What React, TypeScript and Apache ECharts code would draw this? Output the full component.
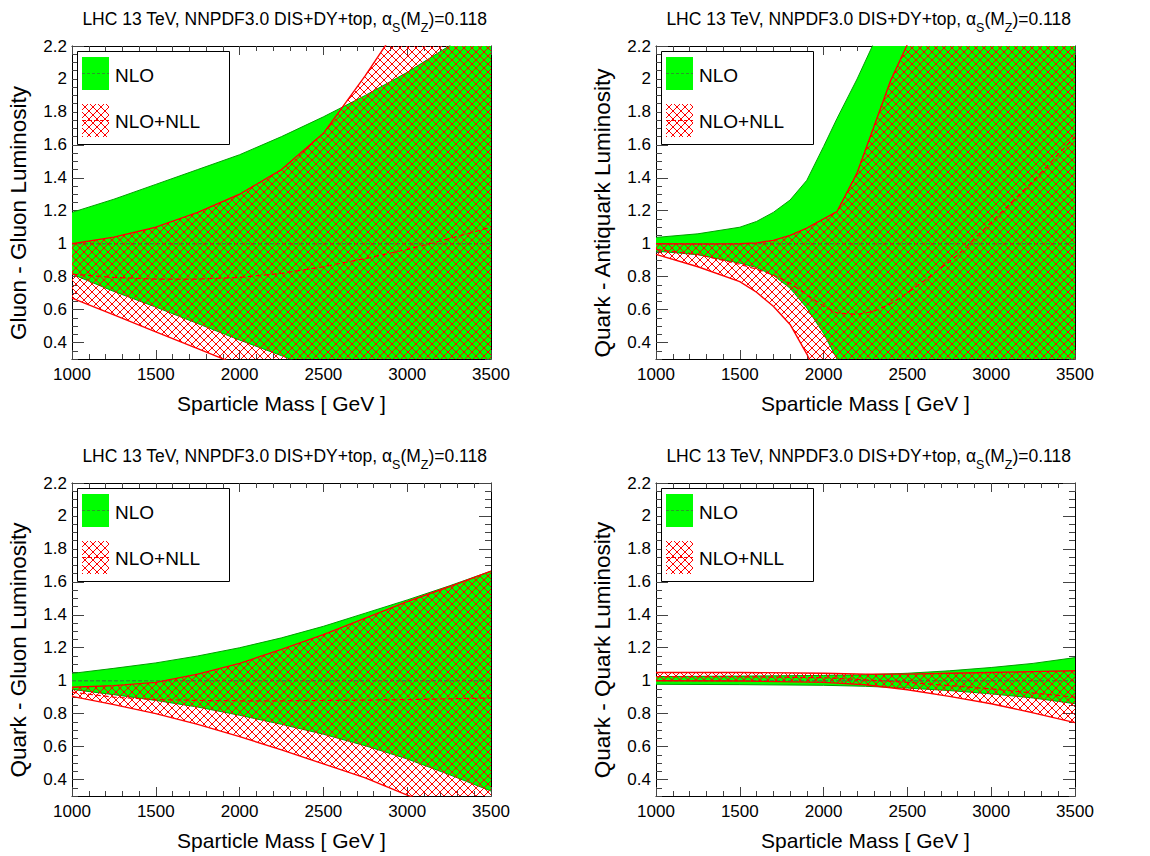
import React, { useEffect, useRef } from 'react';
import * as echarts from 'echarts';

// ---------- tick values / labels ----------
const xMajor = [1000, 1500, 2000, 2500, 3000, 3500];
const xMinor = Array.from({ length: 26 }, (_, i) => 1000 + i * 100);
const yMajor = [0.4, 0.6, 0.8, 1, 1.2, 1.4, 1.6, 1.8, 2, 2.2];
const yMinor = Array.from({ length: 39 }, (_, i) => Math.round((0.3 + i * 0.05) * 100) / 100);

const yTitles = [
  'Gluon - Gluon Luminosity',
  'Quark - Antiquark Luminosity',
  'Quark - Gluon Luminosity',
  'Quark - Quark Luminosity',
];
const xTitle = 'Sparticle Mass [ GeV ]';
const legendLabels = ['NLO', 'NLO+NLL'];

// ---------- data: gluon-gluon ----------
const ggX = [1000, 1250, 1500, 1750, 2000, 2250, 2500, 2750, 3000, 3250, 3500];
const ggNloUp = [1.19, 1.27, 1.36, 1.45, 1.54, 1.65, 1.77, 1.9, 2.04, 2.2, 2.37];
const ggNloLo = [0.815, 0.71, 0.615, 0.515, 0.415, 0.32, 0.22, 0.12, 0.02, -0.08, -0.18];
const ggNllUp = [1.0, 1.04, 1.1, 1.19, 1.3, 1.45, 1.67, 2.02, 2.4, 2.8, 3.2];
const ggNllLo = [0.67, 0.568, 0.465, 0.363, 0.26, 0.16, 0.06, -0.04, -0.14, -0.24, -0.34];
const ggNllMid = [0.815, 0.795, 0.785, 0.785, 0.795, 0.82, 0.86, 0.91, 0.965, 1.03, 1.1];

// ---------- data: quark-antiquark ----------
const qaX = [1000, 1250, 1500, 1600, 1700, 1800, 1900, 2000, 2080, 2200, 2300, 2400, 2500, 2600, 2800, 3000, 3250, 3500];
const qaNloUp = [1.038, 1.06, 1.1, 1.135, 1.19, 1.265, 1.385, 1.59, 1.76, 2.0, 2.22, 2.45, 2.7, 2.95, 3.4, 3.9, 4.5, 5.1];
const qaNloLo = [0.955, 0.933, 0.882, 0.855, 0.808, 0.73, 0.61, 0.455, 0.3, 0.05, -0.15, -0.3, -0.45, -0.6, -0.8, -1.0, -1.2, -1.4];
const qaNllUp = [1.0, 0.998, 1.0, 1.005, 1.02, 1.05, 1.095, 1.15, 1.195, 1.43, 1.71, 1.99, 2.21, 2.45, 2.9, 3.4, 4.0, 4.6];
const qaNllLo = [0.935, 0.86, 0.77, 0.705, 0.62, 0.51, 0.33, 0.12, -0.05, -0.3, -0.5, -0.7, -0.9, -1.1, -1.4, -1.7, -2.0, -2.3];
const qaNllMid = [0.965, 0.935, 0.875, 0.845, 0.81, 0.76, 0.69, 0.62, 0.58, 0.57, 0.59, 0.635, 0.7, 0.775, 0.93, 1.13, 1.38, 1.65];

// ---------- data: quark-gluon ----------
const qgX = [1000, 1250, 1500, 1750, 2000, 2250, 2500, 2750, 3000, 3250, 3500];
const qgNloUp = [1.044, 1.075, 1.108, 1.15, 1.2, 1.26, 1.33, 1.41, 1.49, 1.575, 1.665];
const qgNloLo = [0.947, 0.915, 0.88, 0.84, 0.79, 0.735, 0.675, 0.605, 0.525, 0.43, 0.33];
const qgNllUp = [0.96, 0.97, 0.99, 1.04, 1.105, 1.19, 1.28, 1.38, 1.48, 1.57, 1.665];
const qgNllLo = [0.905, 0.855, 0.8, 0.735, 0.66, 0.58, 0.495, 0.41, 0.305, 0.21, 0.12];
const qgNllMid = [0.93, 0.9, 0.885, 0.88, 0.878, 0.878, 0.88, 0.882, 0.885, 0.89, 0.895];

// ---------- data: quark-quark ----------
const qqX = [1000, 1500, 2000, 2250, 2500, 2750, 3000, 3250, 3500];
const qqNloUp = [1.025, 1.028, 1.032, 1.036, 1.045, 1.06, 1.08, 1.105, 1.14];
const qqNloLo = [0.978, 0.976, 0.972, 0.966, 0.955, 0.94, 0.92, 0.895, 0.86];
const qqNllUp = [1.05, 1.05, 1.045, 1.04, 1.04, 1.045, 1.05, 1.055, 1.06];
const qqNllLo = [1.0, 0.998, 0.99, 0.975, 0.945, 0.905, 0.86, 0.805, 0.745];
const qqNllMid = [1.025, 1.024, 1.018, 1.005, 0.99, 0.97, 0.95, 0.925, 0.9];

// NLO central (ratio reference)
const nloMidX = [1000, 3500];
const nloMidY = [1, 1];

const panels = [
  { x: ggX, nloUp: ggNloUp, nloLo: ggNloLo, nllUp: ggNllUp, nllLo: ggNllLo, nllMid: ggNllMid },
  { x: qaX, nloUp: qaNloUp, nloLo: qaNloLo, nllUp: qaNllUp, nllLo: qaNllLo, nllMid: qaNllMid },
  { x: qgX, nloUp: qgNloUp, nloLo: qgNloLo, nllUp: qgNllUp, nllLo: qgNllLo, nllMid: qgNllMid },
  { x: qqX, nloUp: qqNloUp, nloLo: qqNloLo, nllUp: qqNllUp, nllLo: qqNllLo, nllMid: qqNllMid },
];

// ---------- layout ----------
const FONT = '"Liberation Sans", Arial, Helvetica, sans-serif';
const PW = 419;
const PH = 313;
const gridPos = [
  { left: 72, top: 46 },
  { left: 656, top: 46 },
  { left: 72, top: 483 },
  { left: 656, top: 483 },
];
const GREEN = '#00ff00';
const GREEN_EDGE = '#00a000';
const RED = '#ff0000';

function makeHatch() {
  const s = 8;
  const c = document.createElement('canvas');
  c.width = s;
  c.height = s;
  const g = c.getContext('2d')!;
  g.fillStyle = RED;
  for (let i = 0; i < s; i++) {
    g.fillRect(i, i, 1, 1);
    g.fillRect(s - 1 - i, i, 1, 1);
  }
  return { image: c, repeat: 'repeat', imageWidth: s, imageHeight: s } as any;
}

function buildOption() {
  const hatch = makeHatch();
  const grid: any[] = [];
  const xAxis: any[] = [];
  const yAxis: any[] = [];
  const series: any[] = [];
  const graphic: any[] = [];

  gridPos.forEach((gp, gi) => {
    grid.push({ left: gp.left, top: gp.top, width: PW, height: PH, containLabel: false });
    const xBase = {
      gridIndex: gi, type: 'value', min: 1000, max: 3500,
      splitLine: { show: false },
    };
    const yBase = {
      gridIndex: gi, type: 'value', min: 0.3, max: 2.2,
      splitLine: { show: false },
    };
    const tickStyle = { color: '#444', width: 1 };
    const lineStyle = { color: '#000', width: 1 };
    xAxis.push({
      ...xBase, position: 'bottom',
      axisLine: { show: true, onZero: false, lineStyle },
      axisTick: { show: true, inside: true, length: 9, customValues: xMajor, lineStyle: tickStyle },
      axisLabel: {
        show: true, customValues: xMajor, fontSize: 17, color: '#000', fontFamily: FONT, margin: 7,
        formatter: (v: number) => String(v),
      },
    });
    xAxis.push({
      ...xBase, position: 'bottom',
      axisLine: { show: false, onZero: false },
      axisTick: { show: true, inside: true, length: 5, customValues: xMinor, lineStyle: tickStyle },
      axisLabel: { show: false },
    });
    xAxis.push({
      ...xBase, position: 'top',
      axisLine: { show: true, onZero: false, lineStyle },
      axisTick: { show: true, inside: true, length: 9, customValues: xMajor, lineStyle: tickStyle },
      axisLabel: { show: false },
    });
    xAxis.push({
      ...xBase, position: 'top',
      axisLine: { show: false, onZero: false },
      axisTick: { show: true, inside: true, length: 5, customValues: xMinor, lineStyle: tickStyle },
      axisLabel: { show: false },
    });
    yAxis.push({
      ...yBase, position: 'left',
      axisLine: { show: true, onZero: false, lineStyle },
      axisTick: { show: true, inside: true, length: 12, customValues: yMajor, lineStyle: tickStyle },
      axisLabel: {
        show: true, customValues: yMajor, fontSize: 17, color: '#000', fontFamily: FONT, margin: 5,
        formatter: (v: number) => String(Math.round(v * 10) / 10),
      },
    });
    yAxis.push({
      ...yBase, position: 'left',
      axisLine: { show: false, onZero: false },
      axisTick: { show: true, inside: true, length: 6, customValues: yMinor, lineStyle: tickStyle },
      axisLabel: { show: false },
    });
    yAxis.push({
      ...yBase, position: 'right',
      axisLine: { show: true, onZero: false, lineStyle },
      axisTick: { show: true, inside: true, length: 12, customValues: yMajor, lineStyle: tickStyle },
      axisLabel: { show: false },
    });
    yAxis.push({
      ...yBase, position: 'right',
      axisLine: { show: false, onZero: false },
      axisTick: { show: true, inside: true, length: 6, customValues: yMinor, lineStyle: tickStyle },
      axisLabel: { show: false },
    });

    const p = panels[gi];
    const xi = gi * 4;
    const band = (lo: number[], up: number[], fill: any, z: number) => ({
      type: 'custom', xAxisIndex: xi, yAxisIndex: xi, clip: true, z, silent: true,
      data: p.x.map((xv, i) => [xv, lo[i], up[i]]),
      encode: { x: 0, y: [1, 2] },
      renderItem: (params: any, api: any) => {
        if (params.dataIndex !== 0) return null;
        const pts: number[][] = [];
        for (let i = 0; i < p.x.length; i++) pts.push(api.coord([p.x[i], up[i]]));
        for (let i = p.x.length - 1; i >= 0; i--) pts.push(api.coord([p.x[i], lo[i]]));
        return { type: 'polygon', shape: { points: pts }, style: { fill, stroke: null } };
      },
    });
    const line = (xs: number[], ys: number[], color: string, width: number, type: any, z: number) => ({
      type: 'line', xAxisIndex: xi, yAxisIndex: xi, clip: true, z, silent: true,
      symbol: 'none', showSymbol: false,
      data: xs.map((xv, i) => [xv, ys[i]]),
      lineStyle: { color, width, type },
    });
    series.push(band(p.nloLo, p.nloUp, GREEN, 2));
    series.push(line(p.x, p.nloUp, GREEN_EDGE, 1, 'solid', 3));
    series.push(line(p.x, p.nloLo, GREEN_EDGE, 1, 'solid', 3));
    series.push(line(nloMidX, nloMidY, '#2a9a2a', 1.5, [4, 2], 3));
    series.push(band(p.nllLo, p.nllUp, hatch, 4));
    series.push(line(p.x, p.nllUp, RED, 1.4, 'solid', 5));
    series.push(line(p.x, p.nllLo, RED, 1.4, 'solid', 5));
    series.push(line(p.x, p.nllMid, RED, 1.2, [5, 3], 5));

    graphic.push({
      type: 'text', z: 100, x: gp.left + PW - 4, y: gp.top - 27,
      style: {
        text: '{n|LHC 13 TeV, NNPDF3.0 DIS+DY+top, α}{s|S}{n|(M}{s|Z}{n|)=0.118}',
        align: 'right', verticalAlign: 'middle',
        rich: {
          n: { fontSize: 17.5, fontFamily: FONT, fill: '#000', lineHeight: 30, verticalAlign: 'middle' },
          s: { fontSize: 12.5, fontFamily: FONT, fill: '#000', lineHeight: 30, verticalAlign: 'bottom' },
        },
      },
    });
    graphic.push({
      type: 'text', z: 100, x: gp.left - 54, y: gp.top + 167, rotation: Math.PI / 2,
      style: { text: yTitles[gi], fontSize: 22.5, fontFamily: FONT, fill: '#000', align: 'center', verticalAlign: 'middle' },
    });
    graphic.push({
      type: 'text', z: 100, x: gp.left + PW / 2, y: gp.top + PH + 44,
      style: { text: xTitle, fontSize: 21, fontFamily: FONT, fill: '#000', align: 'center', verticalAlign: 'middle' },
    });
    graphic.push({
      type: 'group', x: gp.left + 5, y: gp.top + 5, z: 100,
      children: [
        { type: 'rect', z: 100, shape: { x: 0.5, y: 0.5, width: 152, height: 93 }, style: { fill: '#fff', stroke: '#000', lineWidth: 1 } },
        { type: 'rect', z: 101, shape: { x: 5, y: 6, width: 27, height: 33 }, style: { fill: GREEN } },
        { type: 'line', z: 102, shape: { x1: 5, y1: 22.5, x2: 32, y2: 22.5 }, style: { stroke: '#2a9a2a', lineWidth: 1, lineDash: [3, 2] } },
        { type: 'text', z: 102, x: 38, y: 24, style: { text: legendLabels[0], fontSize: 19, fontFamily: FONT, fill: '#000', verticalAlign: 'middle' } },
        { type: 'rect', z: 101, shape: { x: 5, y: 53, width: 27, height: 33 }, style: { fill: hatch } },
        { type: 'line', z: 102, shape: { x1: 5, y1: 69.5, x2: 32, y2: 69.5 }, style: { stroke: RED, lineWidth: 1, lineDash: [4, 2] } },
        { type: 'text', z: 102, x: 38, y: 70, style: { text: legendLabels[1], fontSize: 19, fontFamily: FONT, fill: '#000', verticalAlign: 'middle' } },
      ],
    });
  });

  return {
    animation: false,
    backgroundColor: '#fff',
    grid, xAxis, yAxis, series, graphic,
  };
}

export default function App() {
  const ref = useRef<HTMLDivElement>(null);
  useEffect(() => {
    const chart = echarts.init(ref.current!, null, { renderer: 'svg' });
    chart.setOption(buildOption() as any);
    return () => chart.dispose();
  }, []);
  return (
    <div
      ref={ref}
      style={{ position: 'fixed', left: 0, top: 0, width: 1150, height: 856, background: '#fff' }}
    />
  );
}
